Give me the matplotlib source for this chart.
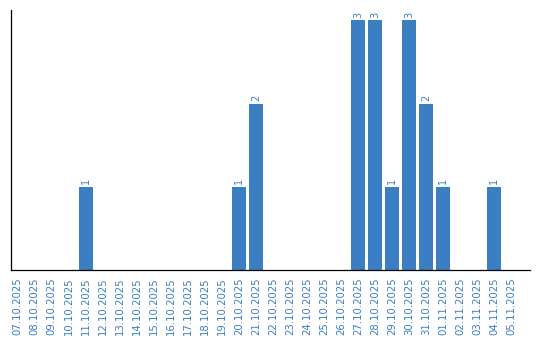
import matplotlib
matplotlib.use("Agg")
import matplotlib.pyplot as plt
import numpy as np

# data
dates = ["07.10.2025", "08.10.2025", "09.10.2025", "10.10.2025", "11.10.2025",
         "12.10.2025", "13.10.2025", "14.10.2025", "15.10.2025", "16.10.2025",
         "17.10.2025", "18.10.2025", "19.10.2025", "20.10.2025", "21.10.2025",
         "22.10.2025", "23.10.2025", "24.10.2025", "25.10.2025", "26.10.2025",
         "27.10.2025", "28.10.2025", "29.10.2025", "30.10.2025", "31.10.2025",
         "01.11.2025", "02.11.2025", "03.11.2025", "04.11.2025", "05.11.2025"]
counts = [0, 0, 0, 0, 1,
          0, 0, 0, 0, 0,
          0, 0, 0, 1, 2,
          0, 0, 0, 0, 0,
          3, 3, 1, 3, 2,
          1, 0, 0, 1, 0]

blue = "#3b7ec2"

fig = plt.figure(figsize=(5.4, 3.4), dpi=100)
ax = fig.add_axes([0.0195, 0.205, 0.962, 0.765])

x = np.arange(len(dates))
bars = ax.bar(x, counts, width=0.82, color=blue)

for xi, c in zip(x, counts):
    if c > 0:
        ax.text(xi, c + 0.03, str(c), rotation=90, ha="center", va="bottom",
                color=blue, fontsize=7)

ax.set_xlim(-0.41, 30.1)
ax.set_ylim(0, 3.12)
ax.set_xticks(x)
ax.set_xticklabels(dates, rotation=90, color=blue, fontsize=7.3)
ax.tick_params(axis="x", length=0, pad=5)
ax.set_yticks([])
ax.spines["top"].set_visible(False)
ax.spines["right"].set_visible(False)
ax.spines["left"].set_linewidth(0.9)
ax.spines["bottom"].set_linewidth(0.9)

fig.savefig("out.png", dpi=100)
